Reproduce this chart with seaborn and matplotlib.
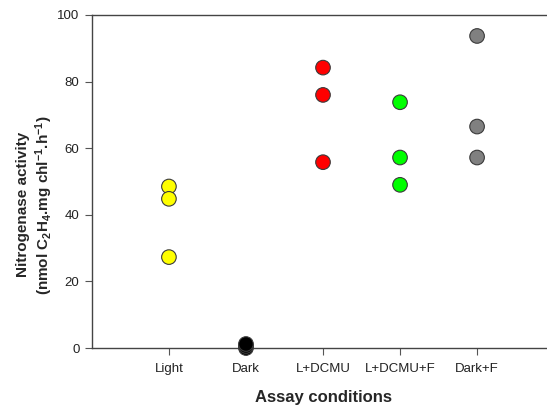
import pandas as pd
import seaborn as sns
import matplotlib.pyplot as plt

# valori
condizioni = ["Light", "Dark", "L+DCMU", "L+DCMU+F", "Dark+F"]
light = [48.5, 44.8, 27.3]
dark = [0.0, 0.6, 1.2]
l_dcmu = [84.2, 76.0, 55.8]
l_dcmu_f = [73.8, 57.2, 49.0]
dark_f = [93.7, 66.5, 57.2]
colori = ["#ffff00", "#000000", "#ff0000", "#00ff00", "#808080"]

valori = [light, dark, l_dcmu, l_dcmu_f, dark_f]
df = pd.DataFrame({
    "Condizione": [c for c, v in zip(condizioni, valori) for _ in v],
    "Attivita": [x for v in valori for x in v],
})

sns.set_style("white")
plt.rcParams["font.family"] = ["Liberation Sans", "DejaVu Sans"]
plt.rcParams["mathtext.default"] = "regular"

fig = plt.figure(figsize=(5.47, 4.05), dpi=100)
ax = fig.add_axes([0.168, 0.1407, 0.845, 0.8223])

sns.stripplot(data=df, x="Condizione", y="Attivita", hue="Condizione",
              order=condizioni, hue_order=condizioni, palette=colori,
              jitter=False, size=10.5, linewidth=0.8, edgecolor="#3a3a3a",
              legend=False, ax=ax, zorder=5, clip_on=False)

ax.set_xlim(-1, 5)
ax.set_ylim(0, 100)
ax.set_yticks([0, 20, 40, 60, 80, 100])

for s in ["left", "bottom", "top"]:
    ax.spines[s].set_color("#444444")
    ax.spines[s].set_linewidth(1.0)
ax.spines["right"].set_visible(False)

ax.tick_params(axis="both", direction="out", length=5, width=0.8,
               color="#555555", labelsize=9.5, labelcolor="#222222",
               bottom=True, left=True, pad=4)
ax.tick_params(axis="x", pad=5.5)

ax.set_xlabel("Assay conditions", fontsize=12, fontweight="bold", labelpad=11)
ax.set_ylabel("Nitrogenase activity\n(nmol C$_2$H$_4$.mg chl$^{-1}$.h$^{-1}$)",
              fontsize=11, fontweight="bold")
# etichetta y spostata come nell'originale (non centrata sull'asse)
ax.yaxis.set_label_coords(-0.08, 0.43)

plt.savefig("out.png", dpi=100)
